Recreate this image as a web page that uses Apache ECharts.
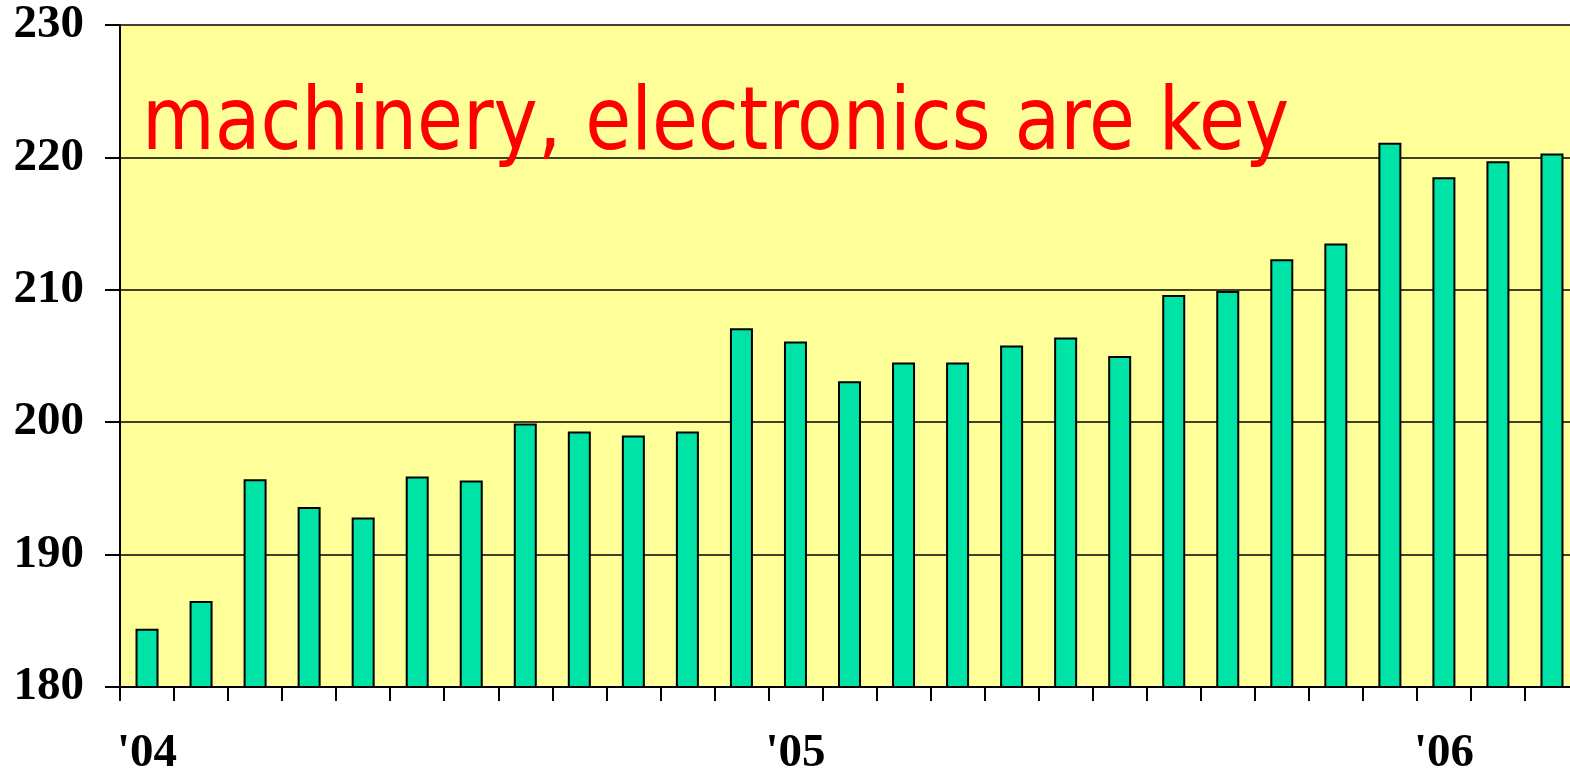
<!DOCTYPE html>
<html>
<head>
<meta charset="utf-8">
<script src="https://cdn.jsdelivr.net/npm/echarts@6/dist/echarts.min.js"></script>
<style>
  html, body { margin: 0; padding: 0; background: #fff; }
  #chart { width: 1570px; height: 773px; }
</style>
</head>
<body>
<div id="chart"></div>
<script>
// monthly values, Jan '04 .. Mar '06
const xLabels = ["'04", '', '', '', '', '', '', '', '', '', '', '',
                 "'05", '', '', '', '', '', '', '', '', '', '', '',
                 "'06", '', ''];
const values = [184.4, 186.5, 195.7, 193.6, 192.8, 195.9, 195.6, 199.9, 199.3, 199.0, 199.3, 207.1,
                206.1, 203.1, 204.5, 204.5, 205.8, 206.4, 205.0, 209.6, 209.9, 212.3, 213.5, 221.1,
                218.5, 219.7, 220.3];
const yTicks = [180, 190, 200, 210, 220, 230];
const note = 'machinery, electronics are key';

const chart = echarts.init(document.getElementById('chart'));

const labelFont = {
  fontFamily: 'Liberation Serif, Times New Roman, serif',
  fontWeight: 'bold',
  fontSize: 47,
  color: '#000'
};

chart.setOption({
  animation: false,
  backgroundColor: '#fff',
  grid: {
    left: 120,
    right: -9,
    top: 25,
    bottom: 86,
    outerBoundsMode: 'none',
    containLabel: false,
    show: true,
    backgroundColor: '#FFFF99',
    borderWidth: 0
  },
  xAxis: {
    type: 'category',
    data: xLabels,
    boundaryGap: true,
    axisLine: { lineStyle: { color: '#000', width: 2 } },
    axisTick: { show: true, interval: 0, length: 14, lineStyle: { color: '#000', width: 2 } },
    axisLabel: Object.assign({ interval: 0, margin: 43 }, labelFont),
    splitLine: { show: false }
  },
  yAxis: {
    type: 'value',
    min: yTicks[0],
    max: yTicks[yTicks.length - 1],
    interval: 10,
    axisLine: { show: true, lineStyle: { color: '#000', width: 2 } },
    axisTick: { show: true, length: 15, lineStyle: { color: '#000', width: 2 } },
    axisLabel: Object.assign({ margin: 36 }, labelFont),
    splitLine: { show: true, lineStyle: { color: '#000', width: 1.5 } }
  },
  series: [{
    type: 'bar',
    data: values,
    barWidth: 23,
    itemStyle: {
      color: '#00E3A6',
      borderColor: '#000',
      borderWidth: 2
    }
  }],
  graphic: [{
    type: 'text',
    left: 142,
    top: 82,
    z: 100,
    scaleY: 1.06,
    style: {
      text: note,
      fill: '#FF0000',
      font: '83px "DejaVu Sans Condensed", "DejaVu Sans", sans-serif'
    }
  }]
});
</script>
</body>
</html>
